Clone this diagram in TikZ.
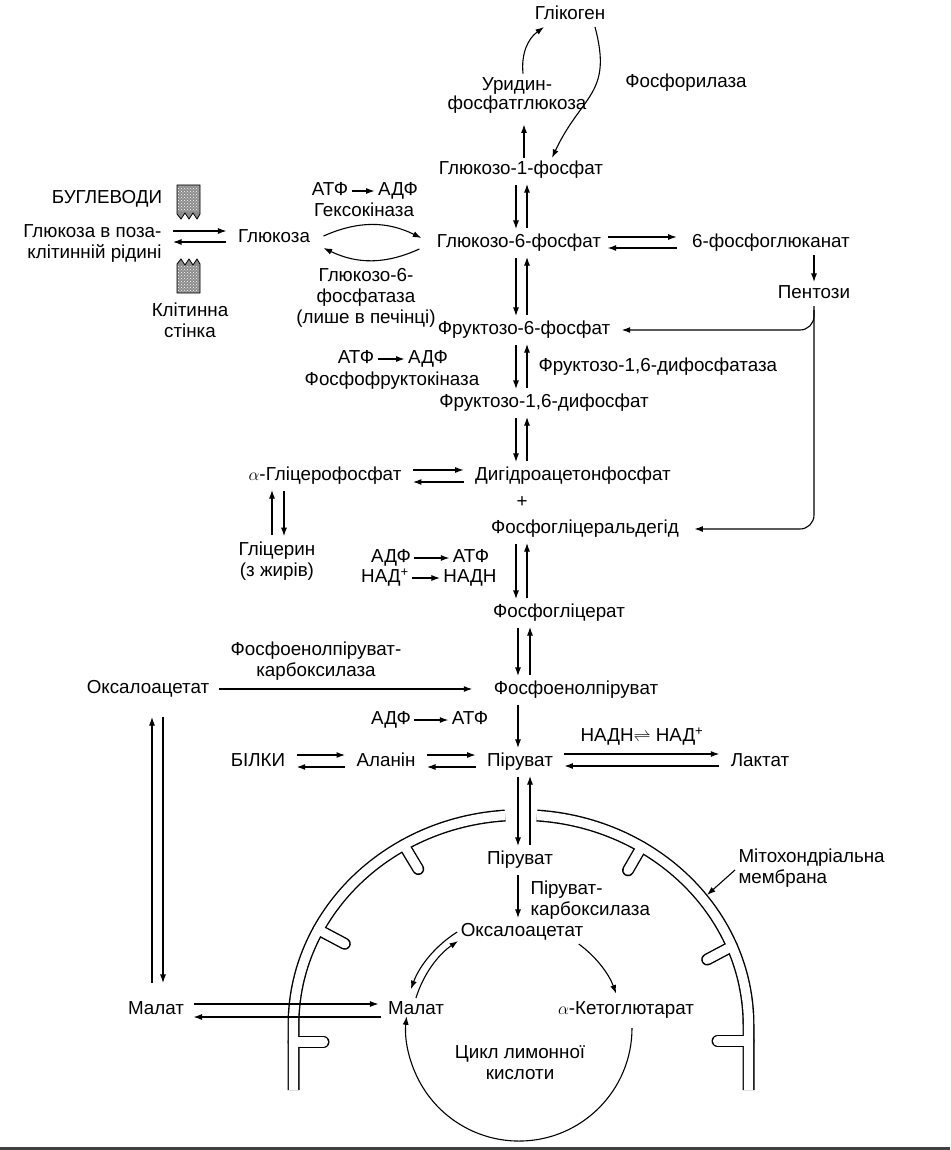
\documentclass[tikz,border=0pt]{standalone}
\usepackage{fontspec}
\setmainfont{Liberation Sans}
\usetikzlibrary{arrows.meta, patterns}

\begin{document}
\begin{tikzpicture}[x=1pt, y=-1pt, line width=1.1pt,
    font=\fontsize{18.8}{21}\selectfont,
    lbl/.style={inner sep=3pt, text height=13pt, text depth=4pt},
    blk/.style={inner sep=3pt, align=center},
    arr/.style={-{Latex[length=8.5pt, width=6pt]}},
    eq/.style={arr, shorten <=8pt, shorten >=8pt},
    vert/.style={arr, shorten <=3pt, shorten >=2pt}]

\useasboundingbox (0,0) rectangle (950,1150);

% columns of the vertical arrow pairs
\coordinate (colL) at (516,0);
\coordinate (colR) at (527,0);
\coordinate (colL2) at (518,0);
\coordinate (colR2) at (530,0);
\coordinate (colOL) at (152,0);
\coordinate (colOR) at (163,0);
\coordinate (memhit) at (707,895);

% draw mitochondrial membrane (black wide, then white narrow)
\foreach \c/\w in {black/12, white/9.2}
{
  \begin{scope}[shift={(521,1025)}, color=\c, line width=\w pt]
    \draw (-227.5,65) -- (-227.5,0) arc[start angle=180, end angle=266, x radius=227.5, y radius=210];
    \draw (274:227.5 and 210) arc[start angle=274, end angle=360, x radius=227.5, y radius=210] -- (227.5,65);
    \draw[line cap=round] (239:227.5 and 210) -- ++(59:28);
    \draw[line cap=round] (207:227.5 and 210) -- ++(28:30);
    \draw[line cap=round] (-227.5,17) -- ++(30,0);
    \draw[line cap=round] (302:227.5 and 210) -- ++(120:27);
    \draw[line cap=round] (338:227.5 and 210) -- ++(152:28);
    \draw[line cap=round] (227.5,16) -- ++(-31,0);
  \end{scope}
}

% draw cell wall
\filldraw[fill=black!45, line width=0.8pt]
  (177,185) -- (200,185) -- (200,214) -- (197,219) -- (193,213) -- (189,219)
  -- (185,213) -- (181,219) -- (177,214) -- cycle;
\filldraw[fill=black!45, line width=0.8pt]
  (177,293) -- (200,293) -- (200,264) -- (197,259) -- (193,265) -- (189,259)
  -- (185,265) -- (181,259) -- (177,264) -- cycle;
\fill[pattern=crosshatch dots, pattern color=white]
  (178,186) rectangle (199,212) (178,266) rectangle (199,292);

% draw glycogen part
\node[lbl] (glyc) at (570,15) {Глікоген};
\node[blk, font=\fontsize{18.8}{19}\selectfont] (udpg) at (517,95) {Уридин-\\фосфатглюкоза};
\node[lbl] (phos) at (686,83) {Фосфорилаза};
\node[lbl] (g1p) at (521,170) {Глюкозо-1-фосфат};
\node[lbl] (g6p) at (519,243) {Глюкозо-6-фосфат};
\node[lbl] (pgl) at (771,243) {6-фосфоглюканат};
\node[lbl] (pent) at (814,294) {Пентози};

% draw glycolysis column
\node[lbl] (f6p) at (524,330) {Фруктозо-6-фосфат};
\node[lbl] (fbp) at (544,403) {Фруктозо-1,6-дифосфат};
\node[lbl, anchor=west] (fbpase) at (535,367) {Фруктозо-1,6-дифосфатаза};
\node[lbl] (atp2) at (356,359) {АТФ};
\node[lbl] (adp2) at (428,359) {АДФ};
\node[lbl] (pfk) at (392,381) {Фосфофруктокіназа};
\node[lbl] (dhap) at (573,476) {Дигідроацетонфосфат};
\node[lbl] (plus) at (522,503) {+};
\node[lbl] (gald) at (585,529) {Фосфогліцеральдегід};
\node[lbl] (agp) at (325,476) {$\alpha$-Гліцерофосфат};
\node[blk] (glyr) at (277,561) {Гліцерин\\(з жирів)};
\node[lbl] (adp3) at (391,558) {АДФ};
\node[lbl] (atp3) at (471,558) {АТФ};
\node[lbl] (nad3) at (385,578) {НАД\textsuperscript{+}};
\node[lbl] (nadh3) at (470,578) {НАДН};
\node[lbl] (pga) at (559,613) {Фосфогліцерат};
\node[lbl] (pep) at (576,690) {Фосфоенолпіруват};
\node[lbl] (oxl) at (148,689) {Оксалоацетат};
\node[blk] (pepck) at (316,661) {Фосфоенолпіруват-\\карбоксилаза};
\node[lbl] (adp4) at (391,720) {АДФ};
\node[lbl] (atp4) at (470,720) {АТФ};
\node[lbl] (pyr) at (520,762) {Піруват};
\node[lbl] (ala) at (386,762) {Аланін};
\node[lbl] (prot) at (258,762) {БІЛКИ};
\node[lbl] (lac) at (760,762) {Лактат};
\node[lbl] (nadh) at (642,737) {НАДН$\rightleftharpoons$ НАД\textsuperscript{+}};

% draw mitochondrion labels
\node[lbl] (pyrm) at (520,860) {Піруват};
\node[blk, align=left, anchor=west] (pc) at (527,900) {Піруват-\\карбоксилаза};
\node[lbl] (oaa) at (522,932) {Оксалоацетат};
\node[lbl] (mal) at (416,1010) {Малат};
\node[lbl] (akg) at (626,1010) {$\alpha$-Кетоглютарат};
\node[blk] (tca) at (520,1063) {Цикл лимонної\\кислоти};
\node[lbl] (mall) at (156,1010) {Малат};
\node[blk, align=left, anchor=west] (mem) at (735,868) {Мітохондріальна\\мембрана};

% draw glucose part
\node[lbl] (carb) at (107,199) {БУГЛЕВОДИ};
\node[blk, align=right, anchor=east] (glcx) at (165,243) {Глюкоза в поза-\\клітинній рідині};
\node[lbl] (glc) at (274,238) {Глюкоза};
\node[blk] (wall) at (190,320) {Клітинна\\стінка};
\node[lbl] (atp1) at (330,191) {АТФ};
\node[lbl] (adp1) at (398,191) {АДФ};
\node[lbl] (hk) at (364,212) {Гексокіназа};
\node[blk] (g6pase) at (366,298) {Глюкозо-6-\\фосфатаза\\(лише в печінці)};

% draw small cofactor arrows
\draw[arr] (atp1) -- (adp1);
\draw[arr] (atp2) -- (adp2);
\draw[arr] (adp3) -- (atp3);
\draw[arr] (nad3) -- (nadh3);
\draw[arr] (adp4) -- (atp4);

% draw glucose arrows
\draw[eq] ([yshift=7pt]glc.west -| glcx.east) -- ([yshift=7pt]glc.west);
\draw[eq] ([yshift=-4pt]glc.west) -- ([yshift=-4pt]glc.west -| glcx.east);
\draw[arr] ([xshift=10pt,yshift=2pt]glc.east) to[bend left=25] ([xshift=-12pt,yshift=5pt]g6p.west);
\draw[arr] ([xshift=-14pt,yshift=-6pt]g6p.west) to[bend left=25] ([xshift=10pt,yshift=-10pt]glc.east);

% draw glycogen arrows
\draw[arr, shorten >=8pt] ([xshift=7pt]udpg.south |- g1p.north) -- ([xshift=7pt]udpg.south);
\draw[arr] ([xshift=6pt]udpg.north) to[bend left=30] ([xshift=-26pt]glyc.south);
\draw[arr] ([xshift=25pt]glyc.south) to[out=-75, in=65, looseness=1.3] ([xshift=31pt]g1p.north);

% draw main column
\draw[vert] (g1p.south -| colL) -- (g6p.north -| colL);
\draw[vert] (g6p.north -| colR) -- (g1p.south -| colR);
\draw[vert] (g6p.south -| colL) -- (f6p.north -| colL);
\draw[vert] (f6p.north -| colR) -- (g6p.south -| colR);
\draw[vert] (f6p.south -| colL) -- (fbp.north -| colL);
\draw[vert] (fbp.north -| colR) -- (f6p.south -| colR);
\draw[vert] (fbp.south -| colL) -- (dhap.north -| colL);
\draw[vert] (dhap.north -| colR) -- (fbp.south -| colR);
\draw[vert] (gald.south -| colL) -- (pga.north -| colL);
\draw[vert] (pga.north -| colR) -- (gald.south -| colR);
\draw[vert] (pga.south -| colL2) -- (pep.north -| colL2);
\draw[vert] (pep.north -| colR2) -- (pga.south -| colR2);
\draw[vert] (pep.south -| colL2) -- (pyr.north -| colL2);
\draw[vert] (pyr.south -| colL2) -- (pyrm.north -| colL2);
\draw[vert] (pyrm.north -| colR2) -- (pyr.south -| colR2);
\draw[vert] (pyrm.south -| colL2) -- (oaa.north -| colL2);

% draw pentose path
\draw[arr, shorten <=3pt, shorten >=12pt] ([yshift=6pt]g6p.east) -- ([yshift=6pt]pgl.west);
\draw[arr, shorten <=12pt, shorten >=3pt] ([yshift=-5pt]pgl.west) -- ([yshift=-5pt]g6p.east);
\draw[arr] (pgl.south -| pent.north) -- (pent.north);
\draw[arr, rounded corners=14pt, shorten >=12pt] (pent.south) |- (gald.east);
\draw[arr, rounded corners=14pt, shorten >=8pt] ([yshift=-4pt]pent.south) |- (f6p.east);

% draw glycerol
\draw[eq] ([yshift=6pt]agp.east) -- ([yshift=6pt]dhap.west);
\draw[eq] ([yshift=-6pt]dhap.west) -- ([yshift=-6pt]agp.east);
\draw[vert] ([xshift=-5pt]glyr.north) -- ([xshift=-5pt]glyr.north |- agp.south);
\draw[vert] ([xshift=7pt]glyr.north |- agp.south) -- ([xshift=7pt]glyr.north);

% draw pyruvate side branches
\draw[arr, shorten <=6pt, shorten >=18pt] (oxl.east) -- (oxl.east -| pep.west);
\draw[eq] ([yshift=7pt]prot.east) -- ([yshift=7pt]ala.west);
\draw[eq] ([yshift=-5pt]ala.west) -- ([yshift=-5pt]prot.east);
\draw[eq] ([yshift=7pt]ala.east) -- ([yshift=7pt]pyr.west);
\draw[eq] ([yshift=-5pt]pyr.west) -- ([yshift=-5pt]ala.east);
\draw[eq] ([yshift=8pt]pyr.east) -- ([yshift=8pt]lac.west);
\draw[eq] ([yshift=-4pt]lac.west) -- ([yshift=-4pt]pyr.east);

% draw malate shuttle
\draw[arr, shorten <=15pt, shorten >=16pt] (mall.north -| colOL) -- (oxl.south -| colOL);
\draw[arr, shorten <=16pt, shorten >=15pt] (oxl.south -| colOR) -- (mall.north -| colOR);
\draw[arr, shorten <=6pt, shorten >=6pt] ([yshift=6pt]mall.east) -- ([yshift=6pt]mall.east -| mal.west);
\draw[arr, shorten <=3pt, shorten >=6pt] ([yshift=-7pt]mal.west) -- ([yshift=-7pt]mal.west -| mall.east);

% draw citric acid cycle
\draw[arr] ([xshift=-8pt]oaa.south east) arc[start angle=-54, end angle=-20, radius=106];
\draw[arr] (oaa.west) arc[start angle=238, end angle=200, radius=113];
\draw[arr] (mal.north) arc[start angle=197, end angle=236, radius=106];
\draw[arr] ([xshift=6pt,yshift=-6pt]akg.south) arc[start angle=0, end angle=186, radius=113];

% draw membrane label arrow
\draw[arr] ([yshift=-2pt]mem.west) -- (memhit);

% draw bottom rule
\draw[line width=3pt, black!75] (0,1148) -- (950,1148);

\end{tikzpicture}
\end{document}
